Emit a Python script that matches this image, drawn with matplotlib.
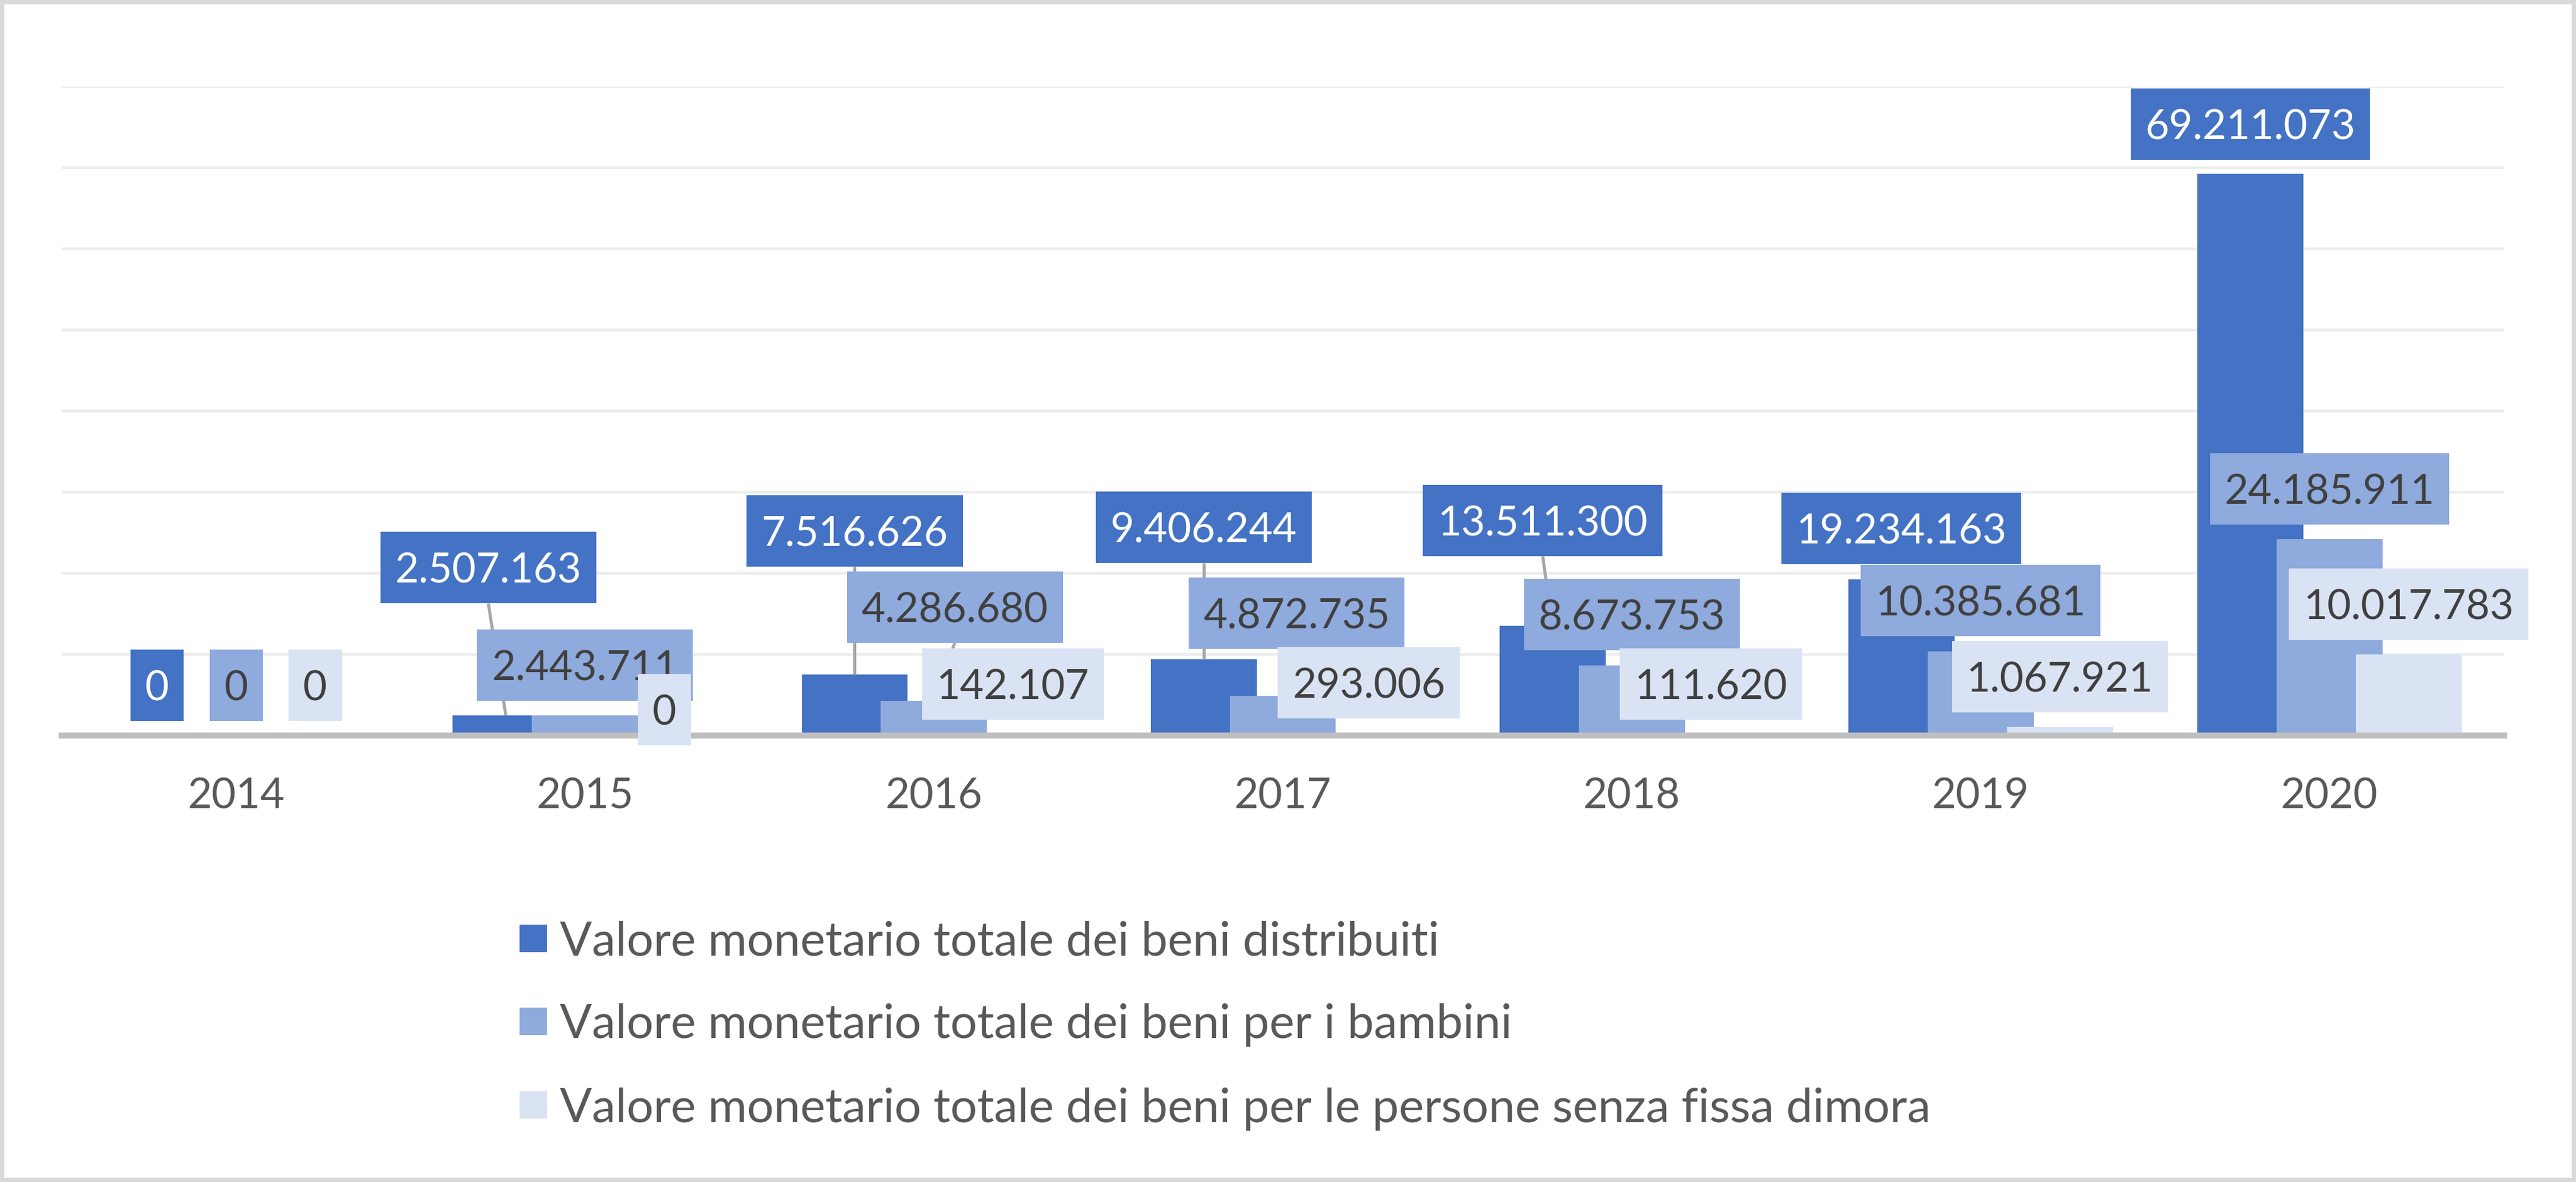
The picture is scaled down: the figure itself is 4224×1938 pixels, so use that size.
import matplotlib
matplotlib.use('Agg')
import matplotlib.pyplot as plt
from matplotlib.patches import Rectangle
import numpy as np

# ---------------- data ----------------
years = ['2014', '2015', '2016', '2017', '2018', '2019', '2020']
series_names = [
    'Valore monetario totale dei beni distribuiti',
    'Valore monetario totale dei beni per i bambini',
    'Valore monetario totale dei beni per le persone senza fissa dimora',
]
val_distribuiti = [0, 2507163, 7516626, 9406244, 13511300, 19234163, 69211073]
val_bambini = [0, 2443711, 4286680, 4872735, 8673753, 10385681, 24185911]
val_senza_dimora = [0, 0, 142107, 293006, 111620, 1067921, 10017783]

# label placement (layout only): horizontal shift (category units) and label centre (data units)
lab_dx_distribuiti = [0, -0.05, 0, 0, -0.028, 0, 0]
lab_dx_bambini = [0, 0, 0.06, 0.04, 0, 0, 0]
lab_dx_senza = [0, 0, 0, 0.02, 0, 0, 0]
lab_y_distribuiti = [6.17e6, 20.68e6, 25.19e6, 25.71e6, 26.47e6, 25.49e6, 75.41e6]
lab_y_bambini = [6.17e6, 8.72e6, 15.86e6, 15.11e6, 14.89e6, 16.62e6, 30.45e6]
lab_y_senza = [6.17e6, 3.23e6, 6.39e6, 6.54e6, 6.39e6, 7.29e6, 16.24e6]

# ---------------- style ----------------
plt.rcParams['font.family'] = ['Lato', 'DejaVu Sans']
bar_colors = ['#4472C4', '#8FAADC', '#DAE3F3']
text_colors = ['white', '#404040', '#404040']
GRAY_TXT = '#595959'

W, H, DPI = 4224, 1938, 100
AX_L, AX_R, AX_T, AX_B = 101, 4106, 142, 1206
YMAX = 80e6

fig = plt.figure(figsize=(W / DPI, H / DPI), dpi=DPI)
fig.patch.set_facecolor('white')
ax = fig.add_axes([AX_L / W, 1 - AX_B / H, (AX_R - AX_L) / W, (AX_B - AX_T) / H])
ax.set_xlim(-0.5, len(years) - 0.5)
ax.set_ylim(0, YMAX)

ppx = (AX_R - AX_L) / len(years)      # pixels per category unit
ppy = (AX_B - AX_T) / YMAX            # pixels per data unit

x = np.arange(len(years))
values = [val_distribuiti, val_bambini, val_senza_dimora]
lab_dx = [lab_dx_distribuiti, lab_dx_bambini, lab_dx_senza]
lab_y = [lab_y_distribuiti, lab_y_bambini, lab_y_senza]
BAR_W = 0.304
STEP = 0.227
offsets = [-STEP, 0, STEP]

for s in range(3):
    ax.bar(x + offsets[s], values[s], width=BAR_W, color=bar_colors[s],
           linewidth=0, zorder=2, label=series_names[s])

# axes styling
ax.set_yticks(np.arange(0, YMAX + 1, 10e6))
ax.yaxis.grid(True, color='#ECECEC', linewidth=3.2)
ax.set_axisbelow(True)
ax.tick_params(axis='y', length=0, labelleft=False)
for sp in ['left', 'right', 'top']:
    ax.spines[sp].set_visible(False)
ax.spines['bottom'].set_color('#BFBFBF')
ax.spines['bottom'].set_linewidth(7)
ax.spines['bottom'].set_zorder(3)
ax.set_xticks(x)
ax.set_xticklabels(years)
ax.tick_params(axis='x', length=0, pad=49, labelsize=49.5, labelcolor=GRAY_TXT)


def fmt(v):
    return f'{v:,}'.replace(',', '.')


renderer = fig.canvas.get_renderer()
BOX_H_PX = 117
PAD_X_PX = 24
box_h = BOX_H_PX / ppy
for s in range(3):
    for i in range(len(years)):
        v = values[s][i]
        xb = x[i] + offsets[s]
        xl = xb + lab_dx[s][i]
        yl = lab_y[s][i]
        zb = 5 + 0.01 * s
        t = ax.text(xl, yl, fmt(v), ha='center', va='center_baseline',
                    fontsize=48.6, color=text_colors[s], zorder=zb + 0.005,
                    clip_on=False)
        ext = t.get_window_extent(renderer)
        bw = (ext.width + 2 * PAD_X_PX) / ppx
        ax.add_patch(Rectangle((xl - bw / 2, yl - box_h / 2), bw, box_h,
                               facecolor=bar_colors[s], edgecolor='none',
                               zorder=zb, clip_on=False))
        bottom = yl - box_h / 2
        if bottom - v > 50 / ppy:
            ax.plot([xl, xb], [bottom, v], color='#A6A6A6', linewidth=3.6,
                    zorder=4, clip_on=False, solid_capstyle='butt')

# legend (manual, vertical list)
LEG_X, LEG_SIZE, LEG_TX = 852, 45, 918
leg_rows = [1538, 1674, 1811]
for s in range(3):
    yc = leg_rows[s]
    fig.add_artist(Rectangle((LEG_X / W, 1 - (yc + LEG_SIZE / 2) / H),
                             LEG_SIZE / W, LEG_SIZE / H,
                             transform=fig.transFigure,
                             facecolor=bar_colors[s], edgecolor='none'))
    fig.text(LEG_TX / W, 1 - yc / H, series_names[s], ha='left',
             va='center_baseline', fontsize=56.0, color=GRAY_TXT)

# chart border
fig.add_artist(Rectangle((0, 0), 1, 1, transform=fig.transFigure, fill=False,
                         edgecolor='#D9D9D9', linewidth=10))

fig.savefig('out.png', dpi=DPI, facecolor='white')
